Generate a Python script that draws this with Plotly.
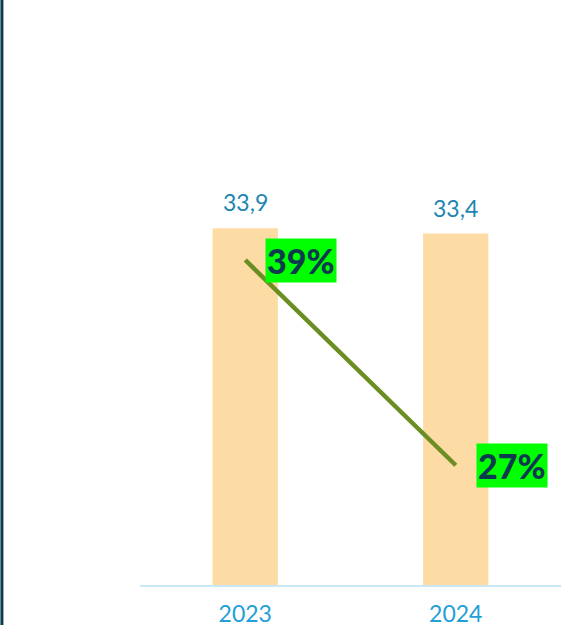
import plotly.graph_objects as go

years = ["2023", "2024"]
values = [33.9, 33.4]
value_labels = ["33,9", "33,4"]
pct = [39, 27]
pct_labels = ["39%", "27%"]

fig = go.Figure()
fig.add_trace(go.Bar(x=years, y=values, marker_color="#fcdba5", marker_line_width=0,
                     hoverinfo="skip", showlegend=False))
fig.add_trace(go.Scatter(x=years, y=pct, yaxis="y2", mode="lines",
                         line=dict(color="#6b8e23", width=4.5), showlegend=False))

for i, (v, t) in enumerate(zip(values, value_labels)):
    fig.add_annotation(x=i, y=v, text=t, showarrow=False, yanchor="bottom", yshift=10,
                       font=dict(family="Lato", size=23, color="#1c86b0"))
for i, (p, t) in enumerate(zip(pct, pct_labels)):
    fig.add_annotation(x=i, y=p, yref="y2", text=t, showarrow=False,
                       xanchor="left", yanchor="middle", xshift=20,
                       bgcolor="#00ff00", borderpad=1,
                       font=dict(family="Lato", size=34, weight=900, color="#0d3a4f"))

fig.add_shape(type="line", xref="paper", yref="paper", x0=-0.328, x1=-0.328, y0=-0.1, y1=1.05,
              line=dict(color="#0b3a4e", width=3))

fig.update_layout(
    width=569, height=625,
    margin=dict(l=140, r=8, t=0, b=40),
    paper_bgcolor="#ffffff", plot_bgcolor="#ffffff",
    bargap=0.69,
    xaxis=dict(type="category", range=[-0.5, 1.5], automargin=False, showline=True,
               linecolor="#c9e8f4", linewidth=2, showgrid=False,
               ticks="outside", ticklen=7, tickcolor="rgba(0,0,0,0)",
               tickfont=dict(family="Lato", size=23, color="#22a0d6")),
    yaxis=dict(range=[0, 55.6], visible=False, showgrid=False, automargin=False),
    yaxis2=dict(range=[20, 54.2], overlaying="y", visible=False, showgrid=False,
                automargin=False),
)

fig.write_html("out.html", config={"displayModeBar": False},
               post_script="document.body.style.margin='0';")
